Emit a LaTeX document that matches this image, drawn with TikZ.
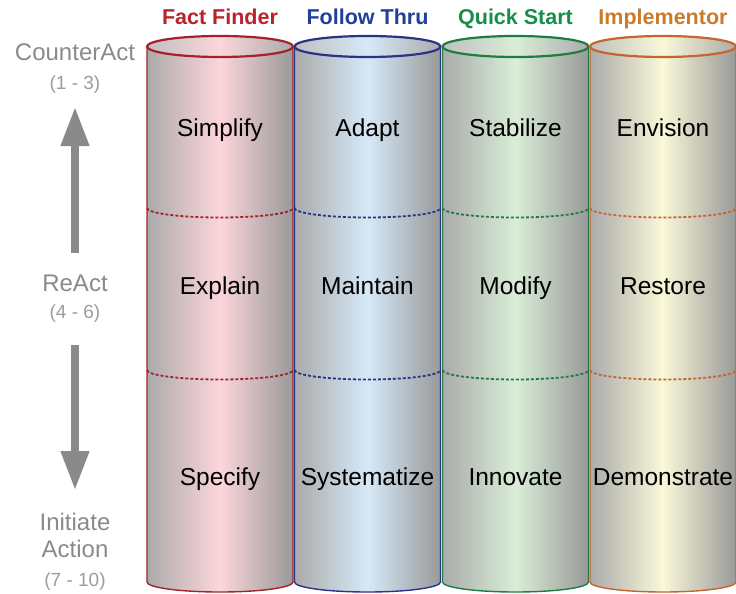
\documentclass[tikz,border=0pt]{standalone}
\usepackage{fontspec}
\setmainfont{Liberation Sans}
\usetikzlibrary{arrows.meta}
\definecolor{ffline}{HTML}{A3222B}
\definecolor{ftline}{HTML}{2C3384}
\definecolor{qsline}{HTML}{1E7D42}
\definecolor{imline}{HTML}{C4662E}
\definecolor{ffhead}{HTML}{B8232D}
\definecolor{fthead}{HTML}{213F98}
\definecolor{qshead}{HTML}{169049}
\definecolor{imhead}{HTML}{CC7A2C}
\definecolor{fftint}{HTML}{FCD6DB}
\definecolor{fttint}{HTML}{D6E9F8}
\definecolor{qstint}{HTML}{D9EED7}
\definecolor{imtint}{HTML}{FAF8D8}
\definecolor{sidegray}{HTML}{8A8A8A}
\tikzset{
  header/.style={font=\fontsize{21.5}{21.5}\selectfont\bfseries, anchor=base, inner sep=0pt},
  cell/.style={font=\fontsize{24.5}{24.5}\selectfont, text=black, anchor=base, inner sep=0pt},
  side/.style={font=\fontsize{24}{24}\selectfont, text=sidegray, anchor=base, inner sep=0pt},
  sidenum/.style={font=\fontsize{19}{19}\selectfont, text=sidegray!85, anchor=base, inner sep=0pt},
  bigarrow/.style={draw=sidegray, line width=7.5pt, -{Triangle[length=39pt,width=27pt]}},
  divider/.style={line width=1.8pt, dash pattern=on 3pt off 2pt},
}
\begin{document}
\begin{tikzpicture}[x=1pt,y=-1pt]
\useasboundingbox (0,0) rectangle (736,594);
\def\rx{73}
% cylinders
\foreach \cx/\ln/\tn/\hn/\name/\a/\b/\c in {
  220/ffline/fftint/ffhead/Fact Finder/Simplify/Explain/Specify,
  367.5/ftline/fttint/fthead/Follow Thru/Adapt/Maintain/Systematize,
  515.5/qsline/qstint/qshead/Quick Start/Stabilize/Modify/Innovate,
  663/imline/imtint/imhead/Implementor/Envision/Restore/Demonstrate}{
  \path[left color=black!33, right color=black!40, middle color=\tn, shading angle=90]
    (\cx-\rx,46.5) -- (\cx-\rx,582)
    arc[start angle=180, end angle=0, x radius=\rx, y radius=10]
    -- (\cx+\rx,46.5)
    arc[start angle=0, end angle=-180, x radius=\rx, y radius=10.5] -- cycle;
  \draw[\ln, line width=1.4pt]
    (\cx-\rx,46.5) -- (\cx-\rx,582)
    arc[start angle=180, end angle=0, x radius=\rx, y radius=10]
    -- (\cx+\rx,46.5);
  \draw[\ln, line width=2.2pt, left color=black!25, right color=black!33, middle color=\tn, shading angle=90]
    (\cx,46.5) ellipse[x radius=\rx, y radius=10.5];
  \draw[\ln, divider]
    (\cx-\rx,208) arc[start angle=180, end angle=0, x radius=\rx, y radius=9.5];
  \draw[\ln, divider]
    (\cx-\rx,370) arc[start angle=180, end angle=0, x radius=\rx, y radius=9.5];
  \node[header, text=\hn] (h\cx) at (\cx,25) {\name};
  \node[cell] (r1\cx) at (\cx,136) {\a};
  \node[cell] (r2\cx) at (\cx,294) {\b};
  \node[cell] (r3\cx) at (\cx,485) {\c};
}
% side labels
\node[side] (counter) at (75,60.5) {CounterAct};
\node[sidenum] (counternum) at (75,89.5) {(1 - 3)};
\node[side] (react) at (75,291.5) {ReAct};
\node[sidenum] (reactnum) at (75,318.5) {(4 - 6)};
\node[side] (initiate) at (75,530.5) {Initiate};
\node[side] (action) at (75,557.5) {Action};
\node[sidenum] (actionnum) at (75,586.5) {(7 - 10)};
\coordinate (upstart) at (75,253);
\coordinate (uptip) at (75,107);
\coordinate (dnstart) at (75,345);
\coordinate (dntip) at (75,490);
\draw[bigarrow] (upstart) -- (uptip);
\draw[bigarrow] (dnstart) -- (dntip);
\end{tikzpicture}
\end{document}
